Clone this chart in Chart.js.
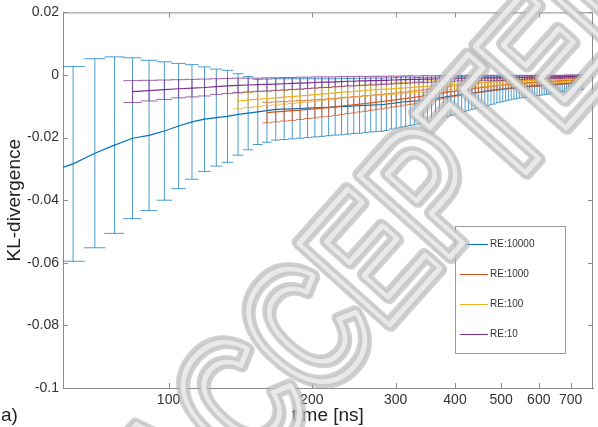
<!DOCTYPE html>
<html>
<head>
<meta charset="utf-8">
<script src="https://cdn.jsdelivr.net/npm/chart.js@4.4.1/dist/chart.umd.min.js"></script>
<style>
  html, body { margin: 0; padding: 0; background: #fff; }
  #wrap { width: 598px; height: 427px; }
</style>
</head>
<body>
<div id="wrap"><canvas id="klChart" width="598" height="427"></canvas></div>
<script>
// sampling times (ns), shared by all four runs
const timeNs = [
  56, 63, 70, 77, 84, 91, 98, 105, 112, 119, 126, 133, 140, 147, 154, 161, 168, 175, 182, 189,
  196, 203, 210, 217, 224, 231, 238, 245, 252, 259, 266, 273, 280, 287, 294, 301, 308, 315, 322, 329,
  336, 343, 350, 357, 364, 371, 378, 385, 392, 399, 406, 413, 420, 427, 434, 441, 448, 455, 462, 469,
  476, 483, 490, 497, 504, 511, 518, 525, 532, 539, 546, 553, 560, 567, 574, 581, 588, 595, 602, 609,
  616, 623, 630, 637, 644, 651, 658, 665, 672, 679, 686, 693, 700, 707, 714, 721, 728, 735, 742
];

const xTicks = [100, 200, 300, 400, 500, 600, 700];
const yTicks = [-0.1, -0.08, -0.06, -0.04, -0.02, 0, 0.02];

// RE:10000
const re10000Mean = [
  -0.0310, -0.0284, -0.0250, -0.0224, -0.0202, -0.0193, -0.0179, -0.0163, -0.0150, -0.0141,
  -0.0136, -0.0132, -0.0126, -0.0122, -0.0118, -0.0114, -0.0110, -0.0109, -0.0108, -0.0107,
  -0.0106, -0.0105, -0.0104, -0.0103, -0.0102, -0.0101, -0.0100, -0.0099, -0.0098, -0.0097,
  -0.0096, -0.0095, -0.0095, -0.0093, -0.0091, -0.0089, -0.0087, -0.0085, -0.0084, -0.0083,
  -0.0082, -0.0080, -0.0079, -0.0077, -0.0075, -0.0073, -0.0071, -0.0069, -0.0067, -0.0066,
  -0.0064, -0.0062, -0.0061, -0.0060, -0.0058, -0.0057, -0.0055, -0.0054, -0.0052, -0.0051,
  -0.0049, -0.0048, -0.0047, -0.0046, -0.0045, -0.0044, -0.0043, -0.0042, -0.0041, -0.0040,
  -0.0039, -0.0038, -0.0038, -0.0037, -0.0036, -0.0035, -0.0035, -0.0034, -0.0034, -0.0033,
  -0.0033, -0.0032, -0.0032, -0.0031, -0.0030, -0.0030, -0.0029, -0.0029, -0.0028, -0.0028,
  -0.0027, -0.0026, -0.0026, -0.0025, -0.0025, -0.0024, -0.0024, -0.0023, -0.0023
];
const re10000Err = [
  0.0320, 0.0311, 0.0302, 0.0282, 0.0257, 0.0240, 0.0221, 0.0200, 0.0183, 0.0167,
  0.0155, 0.0147, 0.0130, 0.0117, 0.0104, 0.0101, 0.0098, 0.0097, 0.0096, 0.0095,
  0.0094, 0.0093, 0.0092, 0.0091, 0.0090, 0.0090, 0.0089, 0.0088, 0.0088, 0.0087,
  0.0086, 0.0086, 0.0085, 0.0084, 0.0082, 0.0081, 0.0080, 0.0079, 0.0077, 0.0076,
  0.0074, 0.0073, 0.0071, 0.0070, 0.0068, 0.0067, 0.0065, 0.0064, 0.0062, 0.0061,
  0.0059, 0.0057, 0.0055, 0.0053, 0.0052, 0.0051, 0.0050, 0.0049, 0.0048, 0.0047,
  0.0046, 0.0045, 0.0042, 0.0041, 0.0040, 0.0039, 0.0038, 0.0037, 0.0036, 0.0036,
  0.0035, 0.0035, 0.0034, 0.0034, 0.0033, 0.0033, 0.0032, 0.0032, 0.0031, 0.0031,
  0.0030, 0.0030, 0.0029, 0.0029, 0.0028, 0.0028, 0.0027, 0.0027, 0.0026, 0.0026,
  0.0026, 0.0025, 0.0025, 0.0025, 0.0024, 0.0024, 0.0024, 0.0023, 0.0023
];

// RE:1000 (starts at 161 ns)
const re1000Mean = [
  null, null, null, null, null, null, null, null, null, null, null, null, null, null, null,
  -0.0120, -0.0118, -0.0116, -0.0114, -0.0112, -0.0110, -0.0108, -0.0106, -0.0104, -0.0102,
  -0.0099, -0.0097, -0.0095, -0.0093, -0.0091, -0.0089, -0.0087, -0.0085, -0.0083, -0.0081,
  -0.0079, -0.0077, -0.0075, -0.0073, -0.0071, -0.0069, -0.0067, -0.0065, -0.0063, -0.0061,
  -0.0059, -0.0057, -0.0055, -0.0053, -0.0052, -0.0050, -0.0048, -0.0047, -0.0045, -0.0044,
  -0.0042, -0.0041, -0.0040, -0.0039, -0.0037, -0.0036, -0.0035, -0.0034, -0.0033, -0.0032,
  -0.0031, -0.0030, -0.0030, -0.0029, -0.0028, -0.0027, -0.0027, -0.0026, -0.0025, -0.0025,
  -0.0024, -0.0024, -0.0023, -0.0023, -0.0022, -0.0022, -0.0021, -0.0021, -0.0020, -0.0020,
  -0.0019, -0.0019, -0.0019, -0.0018, -0.0018, -0.0018, -0.0017, -0.0017, -0.0017, -0.0016,
  -0.0016, -0.0016, -0.0016, -0.0016
];
const re1000Err = [
  null, null, null, null, null, null, null, null, null, null, null, null, null, null, null,
  0.0033, 0.0032, 0.0031, 0.0031, 0.0030, 0.0029, 0.0029, 0.0028,
  0.0028, 0.0027, 0.0027, 0.0026, 0.0026, 0.0025, 0.0025, 0.0024,
  0.0024, 0.0023, 0.0023, 0.0022, 0.0022, 0.0022, 0.0021, 0.0021,
  0.0021, 0.0020, 0.0020, 0.0020, 0.0019, 0.0019, 0.0019, 0.0018,
  0.0018, 0.0018, 0.0017, 0.0017, 0.0017, 0.0016, 0.0016, 0.0016,
  0.0015, 0.0015, 0.0015, 0.0015, 0.0015, 0.0015, 0.0015, 0.0015,
  0.0014, 0.0014, 0.0014, 0.0014, 0.0014, 0.0014, 0.0014, 0.0014,
  0.0013, 0.0013, 0.0013, 0.0013, 0.0013, 0.0013, 0.0013, 0.0013,
  0.0012, 0.0012, 0.0012, 0.0012, 0.0012, 0.0012, 0.0012, 0.0012,
  0.0011, 0.0011, 0.0011, 0.0011, 0.0011, 0.0011, 0.0011, 0.0011,
  0.0010, 0.0010, 0.0010, 0.0010
];

// RE:100 (starts at 140 ns)
const re100Mean = [
  null, null, null, null, null, null, null, null, null, null, null, null,
  -0.0083, -0.0080, -0.0077, -0.0075, -0.0073, -0.0071, -0.0069, -0.0067,
  -0.0065, -0.0063, -0.0061, -0.0059, -0.0057, -0.0055, -0.0054, -0.0053, -0.0051, -0.0050,
  -0.0048, -0.0047, -0.0046, -0.0045, -0.0044, -0.0043, -0.0042, -0.0041, -0.0040, -0.0039,
  -0.0038, -0.0037, -0.0036, -0.0035, -0.0034, -0.0033, -0.0032, -0.0031, -0.0030, -0.0029,
  -0.0028, -0.0028, -0.0027, -0.0026, -0.0026, -0.0025, -0.0025, -0.0024, -0.0024, -0.0023,
  -0.0023, -0.0022, -0.0022, -0.0021, -0.0021, -0.0020, -0.0020, -0.0020, -0.0019, -0.0019,
  -0.0019, -0.0018, -0.0018, -0.0018, -0.0017, -0.0017, -0.0017, -0.0016, -0.0016, -0.0016,
  -0.0015, -0.0015, -0.0015, -0.0015, -0.0014, -0.0014, -0.0014, -0.0014, -0.0013, -0.0013,
  -0.0013, -0.0013, -0.0013, -0.0012, -0.0012, -0.0012, -0.0012, -0.0012, -0.0012
];
const re100Err = [
  null, null, null, null, null, null, null, null, null, null, null, null,
  0.0025,
  0.0024, 0.0024, 0.0023, 0.0023, 0.0022, 0.0022, 0.0021, 0.0021,
  0.0021, 0.0020, 0.0020, 0.0020, 0.0019, 0.0019, 0.0019, 0.0019,
  0.0018, 0.0018, 0.0018, 0.0018, 0.0018, 0.0018, 0.0018, 0.0018,
  0.0017, 0.0017, 0.0017, 0.0017, 0.0017, 0.0017, 0.0017, 0.0017,
  0.0016, 0.0016, 0.0016, 0.0016, 0.0016, 0.0016, 0.0016, 0.0016,
  0.0015, 0.0015, 0.0014, 0.0014, 0.0014, 0.0013, 0.0013, 0.0013,
  0.0012, 0.0012, 0.0012, 0.0012, 0.0012, 0.0012, 0.0012, 0.0012,
  0.0011, 0.0011, 0.0011, 0.0011, 0.0011, 0.0011, 0.0011, 0.0011,
  0.0010, 0.0010, 0.0010, 0.0010, 0.0010, 0.0010, 0.0010, 0.0010,
  0.0010, 0.0010, 0.0010, 0.0010, 0.0010, 0.0010, 0.0010, 0.0010,
  0.0009, 0.0009, 0.0009, 0.0009, 0.0009, 0.0009
];

// RE:10 (starts at 84 ns)
const re10Mean = [
  null, null, null, null,
  -0.0053, -0.0050, -0.0047, -0.0044, -0.0042, -0.0040, -0.0037, -0.0035, -0.0033, -0.0032,
  -0.0031, -0.0030, -0.0029, -0.0028, -0.0027, -0.0026, -0.0025, -0.0024, -0.0023, -0.0023,
  -0.0022, -0.0021, -0.0020, -0.0020, -0.0019, -0.0019, -0.0018, -0.0018, -0.0017, -0.0017,
  -0.0016, -0.0016, -0.0015, -0.0015, -0.0014, -0.0014, -0.0014, -0.0013, -0.0013, -0.0013,
  -0.0012, -0.0012, -0.0012, -0.0011, -0.0011, -0.0011,
  -0.0010, -0.0010, -0.0010, -0.0010, -0.0010, -0.0010, -0.0010,
  -0.0009, -0.0009, -0.0009, -0.0009, -0.0009, -0.0009, -0.0009, -0.0009,
  -0.0008, -0.0008, -0.0008, -0.0008, -0.0008, -0.0008, -0.0008, -0.0008,
  -0.0007, -0.0007, -0.0007, -0.0007, -0.0007, -0.0007, -0.0007, -0.0007,
  -0.0006, -0.0006, -0.0006, -0.0006, -0.0006, -0.0006, -0.0006, -0.0006,
  -0.0005, -0.0005, -0.0005, -0.0005, -0.0005, -0.0005,
  -0.0004, -0.0004, -0.0004, -0.0004
];
const re10Err = [
  null, null, null, null,
  0.0035, 0.0033, 0.0031, 0.0029, 0.0028, 0.0027, 0.0025, 0.0024, 0.0023, 0.0022,
  0.0021, 0.0021, 0.0020, 0.0020, 0.0019, 0.0019, 0.0018, 0.0018, 0.0017, 0.0017,
  0.0016, 0.0016, 0.0015, 0.0015, 0.0015, 0.0014, 0.0014, 0.0014, 0.0013, 0.0013,
  0.0013, 0.0012, 0.0012, 0.0012, 0.0012, 0.0011, 0.0011, 0.0011, 0.0011, 0.0010,
  0.0010, 0.0010, 0.0010, 0.0010, 0.0009, 0.0009,
  0.0009, 0.0009, 0.0009, 0.0009, 0.0009, 0.0009, 0.0009,
  0.0008, 0.0008, 0.0008, 0.0008, 0.0008, 0.0008, 0.0008, 0.0008,
  0.0007, 0.0007, 0.0007, 0.0007, 0.0007, 0.0007, 0.0007, 0.0007,
  0.0006, 0.0006, 0.0006, 0.0006, 0.0006, 0.0006, 0.0006, 0.0006,
  0.0005, 0.0005, 0.0005, 0.0005, 0.0005, 0.0005, 0.0005, 0.0005,
  0.0005, 0.0005, 0.0005, 0.0005, 0.0005, 0.0005,
  0.0004, 0.0004, 0.0004, 0.0004
];

const series = [
  { label: 'RE:10000', color: '#0072bd', bar: 'rgba(0,114,189,0.7)', mean: re10000Mean, err: re10000Err },
  { label: 'RE:1000', color: '#d95319', bar: 'rgba(217,83,25,0.75)', mean: re1000Mean, err: re1000Err },
  { label: 'RE:100', color: '#edb120', bar: 'rgba(237,177,32,0.8)', mean: re100Mean, err: re100Err },
  { label: 'RE:10', color: '#7e2f8e', bar: 'rgba(126,47,142,0.75)', mean: re10Mean, err: re10Err }
];

const CAP_NS = 3.7;          // half width of the error bar caps, in ns
const AXIS_GREY = '#8c8c8c';
const TEXT = '#333';
const FONT = "'Liberation Sans', Arial, Helvetica, sans-serif";

const datasets = series.map((s, k) => ({
  label: s.label,
  data: timeNs.map((t, i) => ({ x: t, y: s.mean[i] })).filter(p => p.y !== null),
  errorBars: timeNs.map((t, i) => ({ x: t, y: s.mean[i], e: s.err[i] })).filter(p => p.y !== null),
  barColor: s.bar,
  borderColor: s.color,
  backgroundColor: s.color,
  borderWidth: 1.2,
  pointRadius: 0,
  fill: false,
  tension: 0,
  order: series.length - k
}));

// vertical bars + caps, drawn just before each series' own line
const errorBarPlugin = {
  id: 'errorBars',
  beforeDatasetDraw(chart, args) {
    const ds = chart.data.datasets[args.index];
    const { ctx, chartArea: a } = chart;
    const x = chart.scales.x, y = chart.scales.y;
    ctx.save();
    ctx.beginPath();
    ctx.rect(a.left, a.top, a.right - a.left, a.bottom - a.top);
    ctx.clip();
    ctx.strokeStyle = ds.barColor;
    ctx.lineWidth = 1;
    ds.errorBars.forEach(p => {
      const px = x.getPixelForValue(p.x);
      const top = y.getPixelForValue(p.y + p.e);
      const bot = y.getPixelForValue(p.y - p.e);
      const l = x.getPixelForValue(p.x - CAP_NS);
      const r = x.getPixelForValue(p.x + CAP_NS);
      ctx.beginPath();
      ctx.moveTo(px, top); ctx.lineTo(px, bot);
      ctx.stroke();
      ctx.beginPath();
      ctx.moveTo(l, top); ctx.lineTo(r, top);
      ctx.stroke();
      ctx.beginPath();
      ctx.moveTo(l, bot); ctx.lineTo(r, bot);
      ctx.stroke();
    });
    ctx.restore();
  }
};

// box around the axes with inward tick marks on all four sides
const framePlugin = {
  id: 'frame',
  beforeDatasetsDraw(chart) {
    const { ctx, chartArea: a } = chart;
    const x = chart.scales.x, y = chart.scales.y;
    const len = 5;
    ctx.save();
    ctx.strokeStyle = AXIS_GREY;
    ctx.lineWidth = 1;
    ctx.beginPath();
    ctx.moveTo(a.left, a.top + 0.5); ctx.lineTo(a.right, a.top + 0.5);
    ctx.moveTo(a.right - 0.5, a.top); ctx.lineTo(a.right - 0.5, a.bottom);
    xTicks.forEach(v => {
      const px = Math.round(x.getPixelForValue(v)) + 0.5;
      ctx.moveTo(px, a.bottom); ctx.lineTo(px, a.bottom - len);
      ctx.moveTo(px, a.top); ctx.lineTo(px, a.top + len);
    });
    yTicks.forEach(v => {
      const py = Math.round(y.getPixelForValue(v)) + 0.5;
      ctx.moveTo(a.left, py); ctx.lineTo(a.left + len, py);
      ctx.moveTo(a.right, py); ctx.lineTo(a.right - len, py);
    });
    ctx.stroke();
    ctx.restore();
  }
};

// boxed legend in the lower right of the axes, plus the panel letter
const legendBoxPlugin = {
  id: 'legendBox',
  afterDatasetsDraw(chart) {
    const { ctx } = chart;
    const box = { left: 455, top: 226, w: 110, h: 127 };
    ctx.save();
    ctx.fillStyle = '#fff';
    ctx.fillRect(box.left, box.top, box.w, box.h);
    ctx.strokeStyle = '#9a9a9a';
    ctx.lineWidth = 1;
    ctx.strokeRect(box.left + 0.5, box.top + 0.5, box.w, box.h);
    ctx.font = '10px ' + FONT;
    ctx.textBaseline = 'middle';
    ctx.fillStyle = TEXT;
    chart.data.datasets.forEach((ds, i) => {
      const cy = box.top + 18.5 + i * 30;
      ctx.strokeStyle = ds.borderColor;
      ctx.beginPath();
      ctx.moveTo(box.left + 5, cy); ctx.lineTo(box.left + 33, cy);
      ctx.stroke();
      ctx.fillText(ds.label, box.left + 35, cy);
    });
    ctx.font = '19px ' + FONT;
    ctx.fillStyle = '#222';
    ctx.fillText('a)', 1, 416);
    ctx.restore();
  }
};

// light grey outlined diagonal stamp across the figure (tall, narrow letters)
const stampPlugin = {
  id: 'stamp',
  afterDraw(chart) {
    const { ctx } = chart;
    const word = 'ACCEPTED';
    ctx.save();
    ctx.translate(400, 240);
    ctx.rotate(-0.84);
    ctx.scale(1, 1.3);
    ctx.font = 'bold 136px ' + FONT;
    ctx.textAlign = 'center';
    ctx.textBaseline = 'middle';
    ctx.lineJoin = 'round';
    ctx.lineWidth = 12;
    ctx.strokeStyle = 'rgba(150,150,150,0.45)';
    ctx.strokeText(word, 0, 0);
    ctx.lineWidth = 8.5;
    ctx.strokeStyle = 'rgba(200,200,200,0.75)';
    ctx.strokeText(word, 0, 0);
    ctx.lineWidth = 4;
    ctx.strokeStyle = 'rgba(238,238,238,0.85)';
    ctx.strokeText(word, 0, 0);
    ctx.restore();
  }
};

const ctx = document.getElementById('klChart').getContext('2d');
new Chart(ctx, {
  type: 'line',
  data: { datasets: datasets },
  options: {
    responsive: false,
    animation: false,
    devicePixelRatio: 1,
    layout: { padding: { top: 12, right: 5, left: 0, bottom: 0 } },
    plugins: {
      legend: { display: false },
      tooltip: { enabled: false }
    },
    scales: {
      x: {
        type: 'logarithmic',
        min: 60,
        max: 780,
        afterBuildTicks: scale => { scale.ticks = xTicks.map(v => ({ value: v })); },
        afterFit: scale => { scale.height = 39; },
        grid: { display: false, drawTicks: false },
        border: { display: true, color: AXIS_GREY },
        ticks: {
          autoSkip: false,
          maxRotation: 0,
          padding: 4,
          color: TEXT,
          font: { family: FONT, size: 14 },
          callback: v => String(v)
        },
        title: {
          display: true,
          text: 'time [ns]',
          color: '#222',
          font: { family: FONT, size: 19 },
          padding: { top: 0, bottom: 0 }
        }
      },
      y: {
        type: 'linear',
        min: -0.1,
        max: 0.02,
        afterBuildTicks: scale => { scale.ticks = yTicks.map(v => ({ value: v })); },
        afterFit: scale => { scale.width = 63; },
        grid: { display: false, drawTicks: false },
        border: { display: true, color: AXIS_GREY },
        ticks: {
          padding: 4,
          color: TEXT,
          font: { family: FONT, size: 14 },
          callback: v => { const r = Math.round(v * 100) / 100; return r === 0 ? '0' : String(r); }
        },
        title: {
          display: true,
          text: 'KL-divergence',
          color: '#222',
          font: { family: FONT, size: 19 },
          padding: { top: 3, bottom: 0 }
        }
      }
    }
  },
  plugins: [errorBarPlugin, framePlugin, legendBoxPlugin, stampPlugin]
});
</script>
</body>
</html>
